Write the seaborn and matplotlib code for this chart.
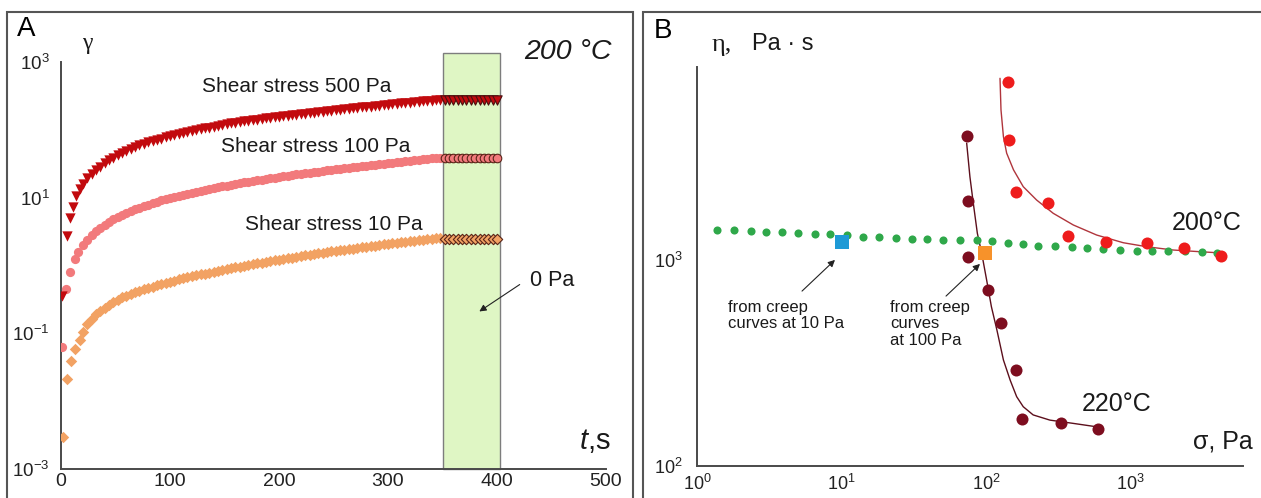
import matplotlib
matplotlib.use("Agg")
import matplotlib.pyplot as plt
from matplotlib.patches import Rectangle
import seaborn as sns

sns.set_theme(style="white")
plt.rcParams["font.family"] = ["Liberation Sans", "DejaVu Sans"]
plt.rcParams["mathtext.fontset"] = "custom"
plt.rcParams["mathtext.rm"] = "Liberation Sans"
plt.rcParams["mathtext.it"] = "Liberation Sans:italic"

#%% data, panel A (creep at 200 C)

# first few readings differ per stress level, then a common time grid
t_early_500 = [1, 5.5, 8.3, 11, 14, 17]
g_early_500 = [0.35, 2.7, 5.1, 7.4, 10.5, 13.3]
t_early_100 = [1, 4.6, 8.3, 12.8, 15.6]
g_early_100 = [0.062, 0.45, 0.81, 1.23, 1.6]
t_early_10 = [2, 5.5, 9, 13, 17]
g_early_10 = [0.003, 0.021, 0.039, 0.058, 0.081]

t_creep = [20, 24, 28, 32, 36, 40, 44, 48, 52, 56, 60, 64, 68, 72, 76, 80, 84, 88,
           92, 96, 100, 104, 108, 112, 116, 120, 124, 128, 132, 136, 140, 144, 148,
           152, 156, 160, 164, 168, 172, 176, 180, 184, 188, 192, 196, 200, 204,
           208, 212, 216, 220, 224, 228, 232, 236, 240, 244, 248, 252, 256, 260,
           264, 268, 272, 276, 280, 284, 288, 292, 296, 300, 304, 308, 312, 316,
           320, 324, 328, 332, 336, 340, 344, 348]

gamma_500 = [16, 19.2, 22.4, 25.6, 28.8, 32, 35.5, 39, 42.5, 46, 49, 52.5, 55.5, 59,
             62, 65.5, 68.5, 72, 74.5, 77.5, 80, 83, 86, 89, 92, 95.5, 99, 102, 105,
             108, 111.5, 114.5, 118, 121, 124, 127, 130, 133, 136, 139, 142, 144.5,
             147, 150, 153, 155.5, 158, 161, 164, 166.5, 169, 172, 175, 178, 181,
             184, 187, 190, 193.5, 197, 200, 203.5, 207, 210, 213.5, 217, 220,
             223.5, 227, 230.5, 234, 237.5, 241, 244.5, 248, 251.5, 255, 258.5, 262,
             265.5, 269, 272.5, 276]

gamma_100 = [2.0, 2.4, 2.8, 3.2, 3.6, 4.0, 4.4, 4.8, 5.2, 5.5, 5.9, 6.3, 6.7, 7.1,
             7.5, 7.9, 8.3, 8.7, 9.1, 9.5, 9.9, 10.3, 10.7, 11.1, 11.5, 11.9, 12.3,
             12.7, 13.1, 13.5, 13.9, 14.3, 14.7, 15.1, 15.5, 15.9, 16.3, 16.8, 17.2,
             17.6, 18.0, 18.4, 18.9, 19.3, 19.8, 20.2, 20.6, 21.1, 21.5, 22.0, 22.4,
             22.9, 23.3, 23.8, 24.2, 24.7, 25.2, 25.6, 26.1, 26.6, 27.1, 27.6, 28.1,
             28.6, 29.1, 29.6, 30.1, 30.6, 31.1, 31.6, 32.2, 32.7, 33.2, 33.8, 34.3,
             34.9, 35.4, 36.0, 36.6, 37.2, 37.8, 38.4, 39.0]

gamma_10 = [0.105, 0.138, 0.165, 0.19, 0.215, 0.24, 0.265, 0.29, 0.315, 0.34, 0.36,
            0.38, 0.405, 0.425, 0.45, 0.47, 0.49, 0.51, 0.535, 0.555, 0.58, 0.6,
            0.625, 0.645, 0.67, 0.69, 0.715, 0.74, 0.76, 0.785, 0.81, 0.84, 0.865,
            0.89, 0.915, 0.94, 0.965, 0.99, 1.02, 1.05, 1.08, 1.1, 1.13, 1.16, 1.19,
            1.22, 1.25, 1.28, 1.31, 1.34, 1.37, 1.41, 1.44, 1.47, 1.51, 1.54, 1.57,
            1.61, 1.64, 1.68, 1.71, 1.75, 1.78, 1.82, 1.86, 1.89, 1.93, 1.97, 2.01,
            2.05, 2.09, 2.13, 2.17, 2.21, 2.25, 2.29, 2.33, 2.37, 2.41, 2.45, 2.49,
            2.52, 2.55]

# stress removed (0 Pa) -> strain stays where it was
t_recovery = [352, 356, 360, 364, 368, 372, 376, 380, 384, 388, 392, 396, 400]
gamma_500_rec = [272, 272, 272, 272, 272, 272, 272, 272, 272, 272, 272, 272, 272]
gamma_100_rec = [39, 39, 39, 39, 39, 39, 39, 39, 39, 39, 39, 39, 39]
gamma_10_rec = [2.5, 2.5, 2.5, 2.5, 2.5, 2.5, 2.5, 2.5, 2.5, 2.5, 2.5, 2.5, 2.5]

#%% data, panel B (viscosity vs stress)

sigma_green = [1.37, 1.8, 2.36, 3.0, 3.87, 5.0, 6.6, 8.3, 10.9, 14.1, 18.2, 23.8,
               30.8, 39.1, 50.4, 66, 87, 110, 142, 180, 229, 300, 394, 500, 646,
               846, 1109, 1409, 1818, 2383, 3126, 3969]
eta_green = [1400, 1400, 1390, 1375, 1360, 1350, 1340, 1330, 1320, 1300, 1295,
             1285, 1270, 1260, 1250, 1245, 1250, 1235, 1215, 1195, 1175, 1165,
             1150, 1140, 1130, 1120, 1110, 1110, 1105, 1105, 1095, 1080]

sigma_200 = [143, 144, 161, 270, 368, 673, 1295, 2345, 4230]
eta_200 = [7340, 3830, 2146, 1884, 1313, 1227, 1205, 1140, 1046]

sigma_220 = [73.5, 75.5, 75.5, 102.5, 128, 161, 177, 330, 594]
eta_220 = [4000, 1932, 1037, 714, 493, 293, 169, 161, 151]

# fitted curves as drawn in the figure
fit200_sigma = [125, 127, 132, 139, 155, 181, 224, 292, 402, 583, 891, 1295, 1978,
                3027, 3950]
fit200_eta = [7620, 5350, 3970, 3300, 2740, 2270, 1955, 1685, 1479, 1322, 1213,
              1160, 1118, 1097, 1085]

fit220_sigma = [73.5, 77.4, 81.7, 87.1, 93.4, 101, 109, 119, 132, 147, 163, 181,
                212, 277, 402, 583]
fit220_eta = [3690, 2535, 1884, 1349, 1078, 800, 593, 457, 327, 261, 217, 194,
              177, 167, 161, 155]

creep10_sigma, creep10_eta = [10], [1222]
creep100_sigma, creep100_eta = [98], [1077]

#%% figure

W, H = 1261, 498
fig = plt.figure(figsize=(W / 100, H / 100), dpi=100)
fig.patch.set_facecolor("white")


def fx(px):
    return px / W


def fy(py):
    return 1 - py / H


axA = fig.add_axes([fx(61), fy(469), (606 - 61) / W, (469 - 62) / H])
axB = fig.add_axes([fx(697), fy(466), (1243 - 697) / W, (466 - 67) / H])

spine_col = "#4a4a4a"
for ax in (axA, axB):
    ax.set_facecolor("none")
    for s in ("top", "right"):
        ax.spines[s].set_visible(False)
    for s in ("left", "bottom"):
        ax.spines[s].set_color(spine_col)
        ax.spines[s].set_linewidth(1.4)

# panel A
axA.axvspan(350, 403, ymin=0, ymax=(469 - 53) / (469 - 62), facecolor="#dff6c4",
            edgecolor="#7d7d7d", lw=1.0, clip_on=False, zorder=1)

c10, c100, c500 = "#f2a263", "#f27a7c", "#c20a0e"

sns.scatterplot(x=t_early_10 + t_creep, y=g_early_10 + gamma_10, marker="D", s=34,
                color=c10, linewidth=0, ax=axA, zorder=3)
sns.scatterplot(x=t_early_100 + t_creep, y=g_early_100 + gamma_100, marker="o",
                s=44, color=c100, linewidth=0, ax=axA, zorder=3)
sns.scatterplot(x=t_early_500 + t_creep, y=g_early_500 + gamma_500, marker="v",
                s=55, color=c500, linewidth=0, ax=axA, zorder=3)

sns.scatterplot(x=t_recovery, y=gamma_10_rec, marker="D", s=28, color=c10,
                edgecolor="#5a2418", linewidth=0.8, ax=axA, zorder=4)
sns.scatterplot(x=t_recovery, y=gamma_100_rec, marker="o", s=38, color=c100,
                edgecolor="#5a2418", linewidth=0.8, ax=axA, zorder=4)
sns.scatterplot(x=t_recovery, y=gamma_500_rec, marker="v", s=45, color=c500,
                edgecolor="#4a1010", linewidth=0.8, ax=axA, zorder=4)

axA.set_yscale("log")
axA.set_xlim(0, 500)
axA.set_ylim(1e-3, 1e3)
axA.set_xticks([0, 100, 200, 300, 400, 500])
axA.set_yticks([1e-3, 1e-1, 1e1, 1e3])
axA.set_yticklabels([r"$10^{-3}$", r"$10^{-1}$", r"$10^{1}$", r"$10^{3}$"])
axA.set_yticks([1e-2, 1, 1e2], minor=True)
axA.set_yticklabels([], minor=True)
axA.tick_params(axis="both", which="both", direction="in", length=8, width=1.3,
                color=spine_col, labelsize=13.5, labelcolor="#222222")
axA.tick_params(axis="y", which="both", pad=8)
axA.tick_params(axis="x", pad=3, labelsize=14)
axA.set_xlabel("")
axA.set_ylabel("")

# panel B
sns.lineplot(x=fit200_sigma, y=fit200_eta, color="#b0353c", lw=1.0, ax=axB,
             sort=False, zorder=2)
sns.lineplot(x=fit220_sigma, y=fit220_eta, color="#5c0f1c", lw=1.0, ax=axB,
             sort=False, zorder=2)
sns.scatterplot(x=sigma_green, y=eta_green, marker="o", s=34, color="#2fa84a",
                linewidth=0, ax=axB, zorder=3)
sns.scatterplot(x=sigma_200, y=eta_200, marker="o", s=75, color="#ee1c1c",
                linewidth=0, ax=axB, zorder=4)
sns.scatterplot(x=sigma_220, y=eta_220, marker="o", s=75, color="#7d0d1f",
                linewidth=0, ax=axB, zorder=4)
sns.scatterplot(x=creep10_sigma, y=creep10_eta, marker="s", s=110, color="#1e9ad6",
                linewidth=0, ax=axB, zorder=5)
sns.scatterplot(x=creep100_sigma, y=creep100_eta, marker="s", s=100,
                color="#f7922a", linewidth=0, ax=axB, zorder=5)

axB.set_xscale("log")
axB.set_yscale("log")
axB.set_xlim(1, 10 ** ((1243 - 697) / 144.5))
axB.set_ylim(100, 10 ** (3 + (260 - 67) / 206))
axB.set_xticks([1, 10, 100, 1000])
axB.set_xticklabels([r"$10^{0}$", r"$10^{1}$", r"$10^{2}$", r"$10^{3}$"])
axB.set_xticks([10 ** 0.5, 10 ** 1.5, 10 ** 2.5], minor=True)
axB.set_xticklabels([], minor=True)
axB.set_yticks([100, 1000])
axB.set_yticklabels([r"$10^{2}$", r"$10^{3}$"])
axB.set_yticks([10 ** 2.5, 10 ** 3.5], minor=True)
axB.set_yticklabels([], minor=True)
axB.tick_params(axis="both", which="major", direction="in", length=9, width=1.3,
                color=spine_col, labelsize=13, labelcolor="#222222")
axB.tick_params(axis="both", which="minor", direction="in", length=4, width=1.0,
                color=spine_col)
axB.tick_params(axis="y", pad=10)
axB.tick_params(axis="x", pad=6)
axB.set_xlabel("")
axB.set_ylabel("")

#%% text

txt = "#1a1a1a"
fig.text(fx(17), fy(29), "A", fontsize=20, color="black", va="center")
fig.text(fx(654), fy(31), "B", fontsize=20, color="black", va="center")
fig.text(fx(82), fy(43), "γ", fontsize=17, family="Liberation Serif",
         color=txt, va="center")
fig.text(fx(612), fy(52), "200 °C", fontsize=20.5, style="italic", color=txt,
         ha="right", va="center")
fig.text(fx(202), fy(86), "Shear stress 500 Pa", fontsize=15, color=txt, va="center")
fig.text(fx(221), fy(147), "Shear stress 100 Pa", fontsize=15, color=txt, va="center")
fig.text(fx(245), fy(224), "Shear stress 10 Pa", fontsize=15, color=txt, va="center")
fig.text(fx(530), fy(280), "0 Pa", fontsize=15.5, color=txt, va="center")
fig.text(fx(611), fy(441), r"$t$,s", fontsize=21, color=txt, ha="right",
         va="center")
axA.annotate("", xy=(fx(477), fy(313)), xytext=(fx(522), fy(283)),
             xycoords="figure fraction", textcoords="figure fraction",
             arrowprops=dict(arrowstyle="-|>", color="#222222", lw=0.8,
                             mutation_scale=10))

fig.text(fx(712), fy(45), "η,", fontsize=19, family="Liberation Serif",
         color=txt, va="center")
fig.text(fx(752), fy(44), "Pa · s", fontsize=17, color=txt, va="center")
fig.text(fx(1253), fy(441), "σ, Pa", fontsize=18, color=txt, ha="right", va="center")
fig.text(fx(1172), fy(223), "200°C", fontsize=18, color=txt, va="center")
fig.text(fx(1082), fy(404), "220°C", fontsize=18, color=txt, va="center")
fig.text(fx(728), fy(300), "from creep\ncurves at 10 Pa", fontsize=12,
         color=txt, va="top", linespacing=1.12)
fig.text(fx(890), fy(300), "from creep\ncurves\nat 100 Pa", fontsize=12,
         color=txt, va="top", linespacing=1.12)
axB.annotate("", xy=(fx(837), fy(258)), xytext=(fx(800), fy(293)),
             xycoords="figure fraction", textcoords="figure fraction",
             arrowprops=dict(arrowstyle="-|>", color="#222222", lw=0.8,
                             mutation_scale=10))
axB.annotate("", xy=(fx(982), fy(262)), xytext=(fx(944), fy(298)),
             xycoords="figure fraction", textcoords="figure fraction",
             arrowprops=dict(arrowstyle="-|>", color="#222222", lw=0.8,
                             mutation_scale=10))

# panel frames
for x0, x1 in ((7, 633), (643, 1275)):
    fig.patches.append(Rectangle((fx(x0), -0.2), (x1 - x0) / W, fy(12) + 0.2,
                                 transform=fig.transFigure, fill=False,
                                 edgecolor="#555555", lw=1.5))

fig.savefig("out.png", dpi=100, facecolor="white")
